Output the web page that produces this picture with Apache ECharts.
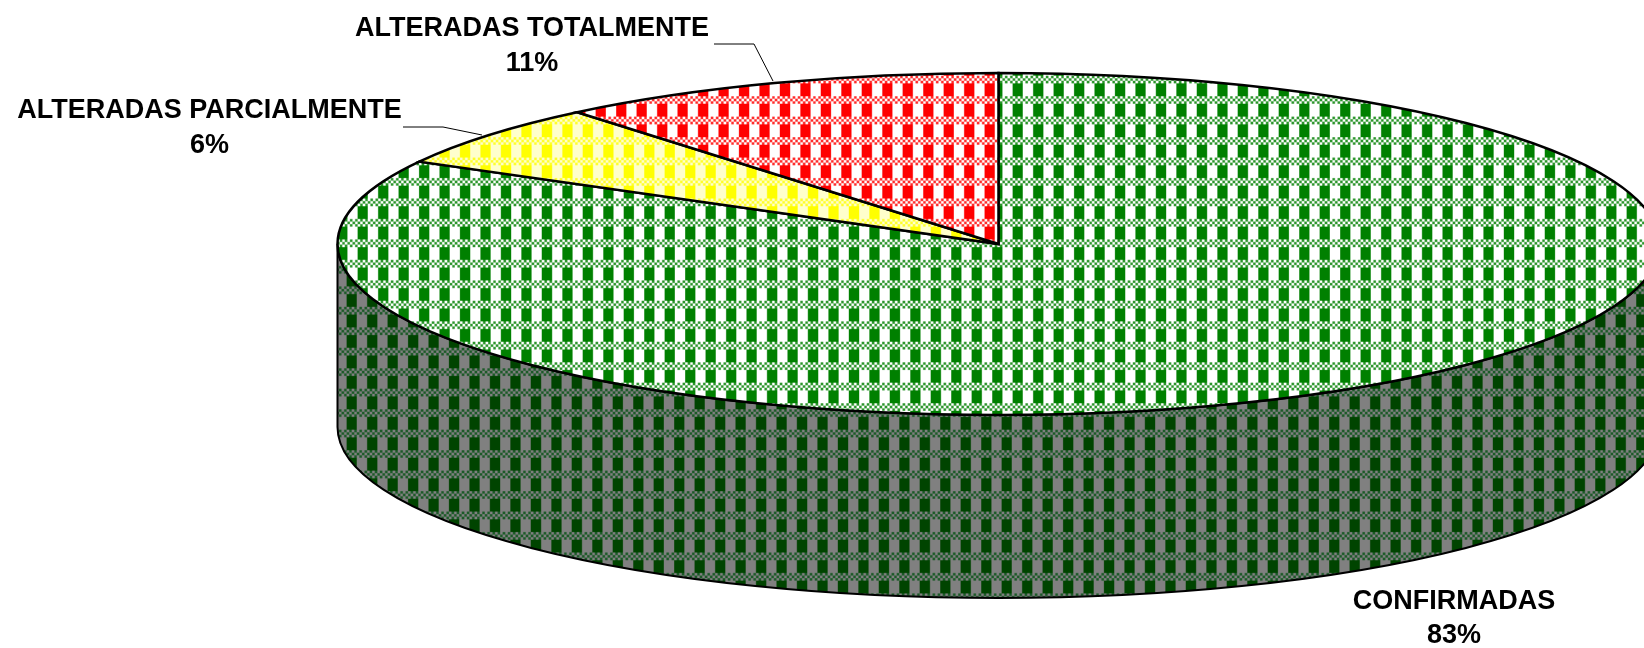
<!DOCTYPE html>
<html><head><meta charset="utf-8">
<style>html,body{margin:0;padding:0;background:#fff}#c{width:1644px;height:648px}</style>
<script src="https://cdn.jsdelivr.net/npm/echarts@6/dist/echarts.min.js"></script>
</head><body><div id="c"></div>
<script>
const categories = ['CONFIRMADAS', 'ALTERADAS PARCIALMENTE', 'ALTERADAS TOTALMENTE'];
const values = [83, 6, 11];

const pie = {cx: 998.5, cy: 244, rx: 661, ry: 171, depth: 183};
const labelLayout = [
  {x: 1454, y: 618.5, leader: null},
  {x: 209.5, y: 128, leader: [[403, 127], [443, 127], [482, 135]]},
  {x: 532, y: 46, leader: [[714, 44], [754, 44], [773, 81]]}
];
const fills = [
  {fg: '#008000', bg: '#ffffff', mid: '#2b952b', col: 1017.7, band: 79.5},
  {fg: '#ffff00', bg: '#ffffcc', mid: '#ffff2b', col: 1017.7, band: 79.5},
  {fg: '#ff0000', bg: '#ffffff', mid: '#ff2b2b', col: 887.3, band: 79.5}
];
const wallFill = {fg: '#004400', bg: '#808080', mid: '#1c5a28', col: 1006.7, band: 433.5};

function tile(f) {
  const n = 16;
  const s = document.createElement('canvas');
  s.width = s.height = n;
  const g = s.getContext('2d');
  for (let r = 0; r < n; r++) for (let c = 0; c < n; c++) {
    let col;
    if (r < 6) {
      const q = Math.floor(c / 2) % 2, row = Math.floor(r / 2) % 2;
      col = q === row ? f.bg : f.mid;
    } else {
      col = c < 8 ? f.fg : f.bg;
    }
    g.fillStyle = col;
    g.fillRect(c, r, 1, 1);
  }
  const size = 655, periods = 32, u = size / periods / n;
  const big = document.createElement('canvas');
  big.width = big.height = size;
  const b = big.getContext('2d');
  b.imageSmoothingEnabled = true;
  const p = size / periods;
  const ox = ((f.col - 4 * u) % p + p) % p, oy = ((f.band - 3 * u) % p + p) % p;
  b.translate(ox - p, oy - p);
  b.scale(u, u);
  b.fillStyle = b.createPattern(s, 'repeat');
  b.fillRect(0, 0, n * (periods + 2), n * (periods + 2));
  return {image: big, repeat: 'repeat'};
}
const patterns = fills.map(tile);
const wallPattern = tile(wallFill);

const total = values.reduce((a, b) => a + b, 0);
const pt = (a, dy) => [pie.cx + pie.rx * Math.sin(a), pie.cy + (dy || 0) - pie.ry * Math.cos(a)];

function renderItem(params, api) {
  const i = params.dataIndex;
  let before = 0;
  for (let k = 0; k < i; k++) before += values[k];
  const a0 = before / total * 2 * Math.PI;
  const a1 = (before + api.value(0)) / total * 2 * Math.PI;
  const children = [];
  const w0 = Math.max(a0, Math.PI / 2), w1 = Math.min(a1, 3 * Math.PI / 2);
  if (w1 > w0) {
    const p = pt(w0), q = pt(w1), pd = pt(w0, pie.depth), qd = pt(w1, pie.depth);
    children.push({
      type: 'path',
      shape: {pathData: `M${p[0]} ${p[1]}L${pd[0]} ${pd[1]}A${pie.rx} ${pie.ry} 0 0 1 ${qd[0]} ${qd[1]}L${q[0]} ${q[1]}A${pie.rx} ${pie.ry} 0 0 0 ${p[0]} ${p[1]}Z`},
      style: {fill: wallPattern, stroke: '#000', lineWidth: 2}
    });
  }
  const s = pt(a0), e = pt(a1);
  const large = a1 - a0 > Math.PI ? 1 : 0;
  children.push({
    type: 'path',
    shape: {pathData: `M${pie.cx} ${pie.cy}L${s[0]} ${s[1]}A${pie.rx} ${pie.ry} 0 ${large} 1 ${e[0]} ${e[1]}Z`},
    style: {fill: patterns[i], stroke: '#000', lineWidth: 2.5, lineJoin: 'miter'}
  });
  const lay = labelLayout[i];
  if (lay.leader) {
    children.push({type: 'polyline', shape: {points: lay.leader}, style: {fill: null, stroke: '#000', lineWidth: 1}});
  }
  children.push({
    type: 'text', x: lay.x, y: lay.y,
    style: {
      text: categories[i] + '\n' + Math.round(api.value(0) / total * 100) + '%',
      font: 'bold 27px "Liberation Sans"', lineHeight: 34.5,
      fill: '#000', align: 'center', verticalAlign: 'middle'
    }
  });
  return {type: 'group', children};
}

const chart = echarts.init(document.getElementById('c'), null, {renderer: 'canvas'});
chart.setOption({
  animation: false,
  backgroundColor: '#fff',
  series: [{
    type: 'custom',
    coordinateSystem: 'none',
    renderItem,
    clip: false,
    data: values.map((v, i) => ({name: categories[i], value: [v]})),
    encode: {value: 0}
  }]
});
</script></body></html>
